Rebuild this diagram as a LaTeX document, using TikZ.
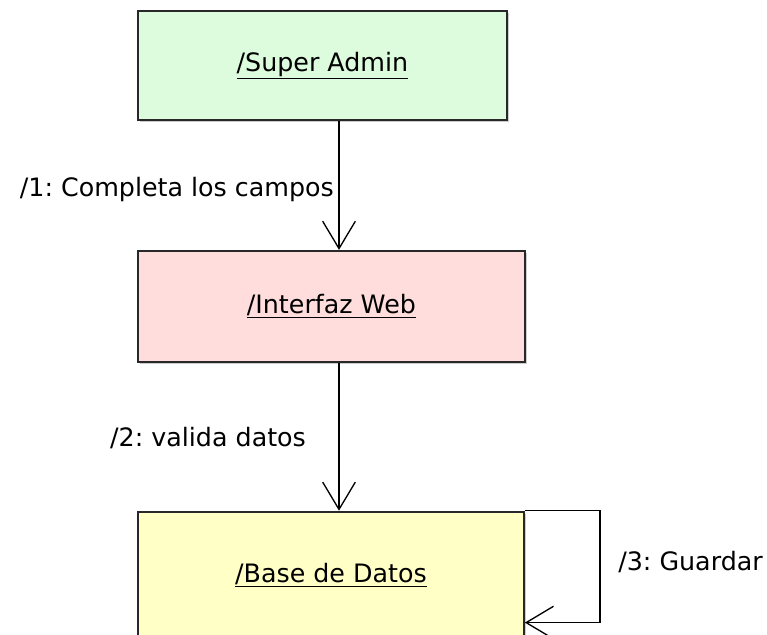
\documentclass[tikz,border=0pt]{standalone}
\usepackage{fontspec}
\setmainfont{DejaVu Sans}
\usetikzlibrary{arrows.meta,positioning,shadows}
\definecolor{adminfill}{RGB}{221,251,221}
\definecolor{webfill}{RGB}{255,221,221}
\definecolor{dbfill}{RGB}{255,255,198}
\definecolor{boxline}{RGB}{40,40,40}

\begin{document}
\frenchspacing
\begin{tikzpicture}[x=0.75pt,y=-0.75pt,font=\fontsize{19}{23}\selectfont]
\tikzstyle{box}=[draw=boxline,line width=1.4pt,anchor=north west,align=center,
  drop shadow={shadow xshift=1.8pt,shadow yshift=-1.8pt,opacity=.4,fill=gray}]
\tikzstyle{msg}=[-{Straight Barb[length=20.5pt,width=24.5pt]},line width=1pt,black]
\useasboundingbox (0,0) rectangle (767,635);
\node[box,fill=adminfill,minimum width=276.75pt,minimum height=81.75pt] (sa) at (137,10) {\underline{/Super Admin}};
\node[box,fill=webfill,minimum width=290.25pt,minimum height=83.25pt,below right=96.75pt and 0pt of sa.south west] (iw) {\underline{/Interfaz Web}};
\node[box,fill=dbfill,minimum width=289.5pt,minimum height=95.25pt,below right=111pt and 0pt of iw.south west] (db) {\underline{/Base de Datos}};
\draw[msg] ([xshift=151.5pt]sa.south west) -- node[left,pos=.53]{/1: Completa los campos} ([xshift=151.5pt]iw.north west);
\draw[msg] ([xshift=151.5pt]iw.south west) -- node[left=21pt,pos=.51]{/2: valida datos} ([xshift=151.5pt]db.north west);
\draw[msg] (db.north east) -| ([xshift=56.25pt,yshift=12.75pt]db.south east) node[right=10pt,pos=.73]{/3: Guardar} -- ([yshift=12.75pt]db.south east);
\end{tikzpicture}
\end{document}
